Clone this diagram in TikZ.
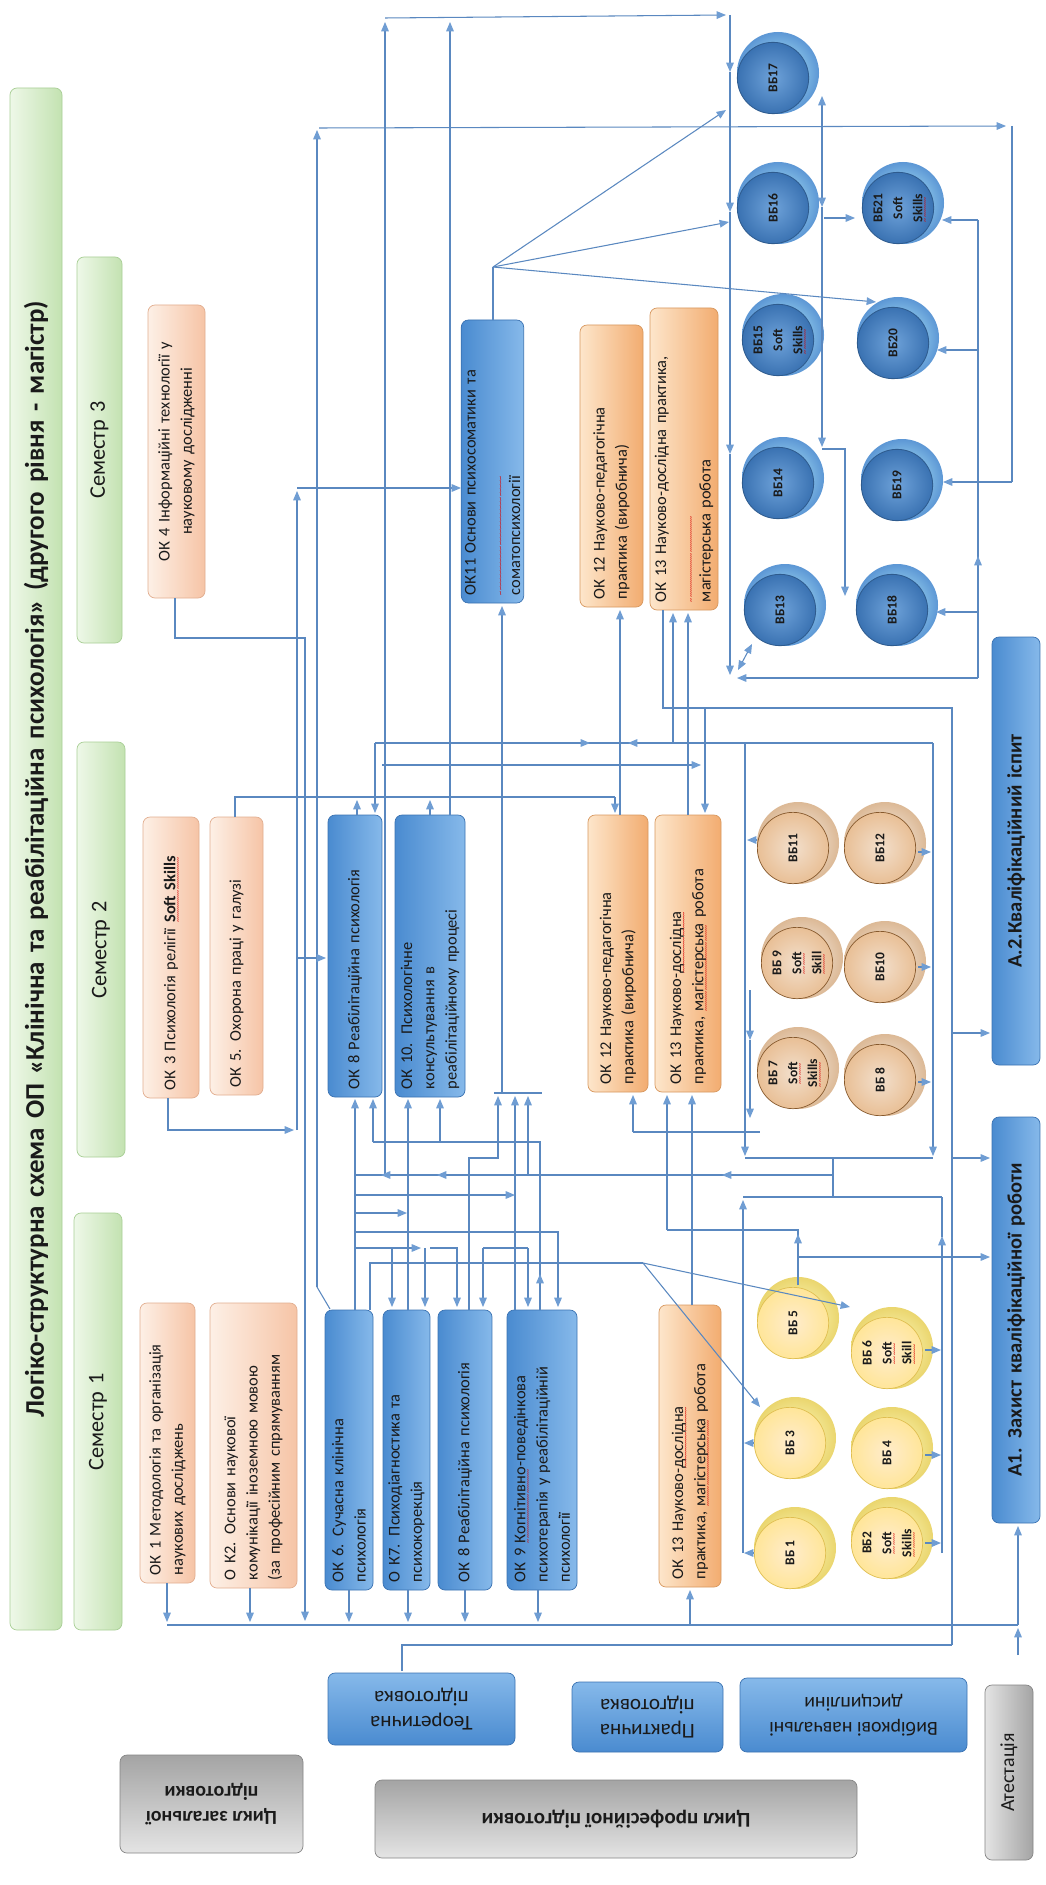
\documentclass[tikz,border=0pt]{standalone}
\usepackage{fontspec}
\setmainfont{Carlito}
\usetikzlibrary{arrows.meta}
\newsavebox\wvbox
\newlength\wvlen
\newcommand\wv[1]{\sbox\wvbox{#1}\setlength\wvlen{\wd\wvbox}\rlap{\raisebox{-4.3pt}[0pt][0pt]{\textcolor{red!85!black}{\fontsize{7}{7}\selectfont\mdseries\leaders\hbox{\char"7E}\hskip\wvlen}}}\usebox\wvbox}
\definecolor{lc}{HTML}{5A88C0}
\definecolor{ac}{HTML}{6F9DD3}
\definecolor{gr1}{HTML}{EEF8E8}\definecolor{gr2}{HTML}{C3E2B1}\definecolor{grd}{HTML}{A9CF96}
\definecolor{pe1}{HTML}{FDF0E6}\definecolor{pe2}{HTML}{F6C4A6}\definecolor{ped}{HTML}{E2AE90}
\definecolor{or1}{HTML}{FDE6CB}\definecolor{or2}{HTML}{F2AC70}\definecolor{ord}{HTML}{D8985F}
\definecolor{bu1}{HTML}{86B9EA}\definecolor{bu2}{HTML}{4A8BD0}\definecolor{bud}{HTML}{3A72B2}
\definecolor{gy1}{HTML}{E4E4E4}\definecolor{gy2}{HTML}{A4A4A4}\definecolor{gyd}{HTML}{858585}
\definecolor{txt}{HTML}{1A1A1A}
\newcommand\bx[7]{%
 \pgfmathsetmacro\bxw{(#5-#3)*0.03}%
 \pgfmathsetmacro\bxh{(#4-#2)*0.03}%
 \pgfmathsetmacro\bxt{(#5-#3-16)*0.03}%
 \node[#6, rotate=90, minimum width=\bxw cm, minimum height=\bxh cm, text width=\bxt cm] (#1) at ({(#2+#4)/2},{(#3+#5)/2}) {#7};}
\newcommand\bxr[7]{%
 \pgfmathsetmacro\bxw{(#4-#2)*0.03}%
 \pgfmathsetmacro\bxh{(#5-#3)*0.03}%
 \node[#6, rotate=180, minimum width=\bxw cm, minimum height=\bxh cm, align=center] (#1) at ({(#2+#4)/2},{(#3+#5)/2}) {#7};}
\newcommand\disc[5]{%
 \shade[#4rim] ({#2+5},{#3-5}) circle[radius=1.23cm];
 \shade[#4face] (#2,#3) circle[radius=1.07cm];
 \node[disctext, rotate=90] (#1) at (#2,#3) {#5};}
\begin{document}
\begin{tikzpicture}[x=0.03cm,y=-0.03cm,
 ln/.style={draw=lc, line width=0.9pt},
 arr/.style={ln, -{Triangle[length=8pt,width=6.5pt,color=ac]}},
 arrb/.style={ln, {Triangle[length=8pt,width=6.5pt,color=ac]}-{Triangle[length=8pt,width=6.5pt,color=ac]}},
 box/.style={rounded corners=6pt, line width=0.6pt, inner sep=3pt, text=txt, align=left, font=\fontsize{14}{19}\selectfont},
 greenbar/.style={box, draw=grd, left color=gr1, right color=gr2, align=center, font=\fontsize{19}{23}\selectfont},
 peach/.style={box, draw=ped, left color=pe1, right color=pe2},
 orange/.style={box, draw=ord, left color=or1, right color=or2},
 blue/.style={box, draw=bud, left color=bu2, right color=bu1},
 bluew/.style={box, draw=bud, top color=bu1, bottom color=bu2},
 gray/.style={box, draw=gyd, top color=gy2, bottom color=gy1, align=center},
 grayv/.style={box, draw=gyd, left color=gy1, right color=gy2, align=center},
 disctext/.style={align=center, inner sep=0pt, text=txt, font=\bfseries\fontsize{11.5}{17}\selectfont},
 blrim/.style={inner color=blue!10!cyan!25, outer color=bu2!90},
 blface/.style={inner color=bu2!80!white, outer color=bud, draw=bud!80!black, line width=0.7pt},
 brrim/.style={inner color=white!70!brown!30, outer color=brown!55!white},
 brface/.style={inner color=orange!20!brown!25!white, outer color=orange!30!brown!50!white, draw=brown!70!black, line width=0.6pt},
 yerim/.style={inner color=yellow!20!white, outer color=yellow!50!brown!65},
 yeface/.style={inner color=yellow!25!orange!20!white, outer color=yellow!50!orange!40!white, draw=yellow!40!brown!90, line width=0.6pt}
]
\useasboundingbox (0,0) rectangle (1046,1885);
\fill[white] (0,0) rectangle (1046,1885);
% ---------- green bars
\bx{title}{10}{88}{62}{1630}{greenbar, font=\bfseries\fontsize{23}{27}\selectfont}{Логіко-структурна схема ОП «Клінічна та реабілітаційна психологія» (другого рівня - магістр)}
\bx{s3}{77}{257}{122}{643}{greenbar}{Семестр 3}
\bx{s2}{77}{742}{125}{1157}{greenbar}{Семестр 2}
\bx{s1}{74}{1213}{122}{1630}{greenbar}{Семестр 1}
% ---------- peach
\bx{ok4}{148}{305}{205}{598}{peach, align=center}{ОК 4 Інформаційні  технології у\\ науковому дослідженні}
\bx{ok3}{143}{817}{199}{1098}{peach}{ОК 3 Психологія релігії \textbf{\wv{Soft Skills}}}
\bx{ok5}{210}{817}{263}{1095}{peach}{ОК 5. Охорона праці у галузі}
\bx{ok1}{140}{1303}{195}{1583}{peach}{ОК 1 Методологія та організація\\ наукових досліджень}
\bx{ok2}{210}{1303}{297}{1588}{peach}{О К2. Основи наукової\\ комунікації іноземною мовою\\ (за професійним спрямуванням}
% ---------- blue boxes
\bx{ok11}{463}{320}{522}{603}{blue}{ОК11 Основи психосоматики та\\ \wv{соматопсихології}}
\bx{ok8b}{328}{815}{382}{1097}{blue}{ОК 8 Реабілітаційна психологія}
\bx{ok10}{395}{815}{465}{1097}{blue}{ОК 10. Психологічне\\ консультування в\\ реабілітаційному процесі}
\bx{ok6}{325}{1310}{373}{1590}{blue}{ОК 6. Сучасна клінічна\\ психологія}
\bx{ok7}{383}{1310}{430}{1590}{blue}{О К7. Психодіагностика та\\ психокорекція}
\bx{ok8a}{438}{1310}{492}{1590}{blue}{ОК 8  Реабілітаційна психологія}
\bx{ok9}{507}{1310}{577}{1590}{blue}{ОК 9 \wv{Когнітивно}-поведінкова\\ психотерапія у реабілітаційній\\ психології}
% ---------- orange
\bx{ok12c}{580}{325}{643}{607}{orange}{ОК 12 Науково-педагогічна\\ практика (виробнича)}
\bx{ok13c}{650}{308}{718}{610}{orange}{ОК 13 Науково-дослідна практика,\\ \wv{магістерська} робота}
\bx{ok12b}{588}{815}{648}{1092}{orange}{ОК 12 Науково-педагогічна\\ практика (виробнича)}
\bx{ok13b}{655}{815}{721}{1092}{orange}{ОК 13 Науково-\wv{дослідна}\\ практика, \wv{магістерська} робота}
\bx{ok13a}{659}{1305}{721}{1587}{orange}{ОК 13 Науково-\wv{дослідна}\\ практика, \wv{магістерська} робота}
% ---------- attestation
\bx{a2}{992}{637}{1040}{1065}{blue, align=center, font=\bfseries\fontsize{17.5}{21}\selectfont}{А.2.Кваліфікаційний іспит}
\bx{a1}{992}{1117}{1040}{1523}{blue, align=center, font=\bfseries\fontsize{17.5}{21}\selectfont}{А1. Захист кваліфікаційної роботи}
\bx{atest}{985}{1685}{1033}{1860}{grayv, font=\fontsize{17}{21}\selectfont}{Атестація}
% ---------- bottom labels
\bxr{cz}{120}{1755}{303}{1853}{gray, font=\bfseries\fontsize{17}{21}\selectfont}{Цикл загальної\\ підготовки}
\bxr{teor}{328}{1673}{515}{1745}{bluew, align=center, font=\fontsize{18}{22}\selectfont}{Теоретична\\ підготовка}
\bxr{prakt}{572}{1682}{723}{1752}{bluew, align=center, font=\fontsize{18}{22}\selectfont}{Практична\\ підготовка}
\bxr{vyb}{740}{1678}{967}{1752}{bluew, align=center, font=\fontsize{17}{21}\selectfont}{Вибіркові навчальні\\ дисципліни}
\bxr{cp}{375}{1780}{857}{1858}{gray, font=\bfseries\fontsize{18}{22}\selectfont}{Цикл професійної підготовки}
% ---------- discs
\disc{v17}{773}{78}{bl}{ВБ17}
\disc{v16}{773}{208}{bl}{ВБ16}
\disc{v21}{898}{208}{bl}{ВБ21\\Soft\\\wv{Skills}}
\disc{v15}{778}{340}{bl}{ВБ15\\Soft\\\wv{Skills}}
\disc{v20}{893}{343}{bl}{ВБ20}
\disc{v14}{778}{483}{bl}{ВБ14}
\disc{v19}{897}{485}{bl}{ВБ19}
\disc{v13}{780}{610}{bl}{ВБ13}
\disc{v18}{892}{610}{bl}{ВБ18}
\disc{v11}{793}{848}{br}{ВБ11}
\disc{v12}{880}{848}{br}{ВБ12}
\disc{v9}{797}{963}{br}{ВБ 9\\\wv{Soft}\\\wv{Skill}}
\disc{v10}{880}{967}{br}{ВБ10}
\disc{v7}{793}{1073}{br}{ВБ 7\\\wv{Soft}\\\wv{Skills}}
\disc{v8}{880}{1080}{br}{ВБ 8}
\disc{v5}{793}{1323}{ye}{ВБ 5}
\disc{v6}{887}{1353}{ye}{ВБ 6\\\wv{Soft}\\\wv{Skill}}
\disc{v3}{790}{1443}{ye}{ВБ 3}
\disc{v4}{887}{1453}{ye}{ВБ 4}
\disc{v1}{790}{1553}{ye}{ВБ 1}
\disc{v2}{887}{1543}{ye}{ВБ2\\\wv{Soft}\\\wv{Skills}}
% ================= connectors
\draw[ln] (330,1309) -- (317,1287);
\draw[arr] (317,1287) -- (317,130);
\draw[arr] (319,128) -- (1006,126);
\draw[ln] (1012,126) -- (1012,482);
\draw[arr] (1012,482) -- (943,482);
\draw[arr] (175,598) -- (175,638) -- (305,638) -- (305,1621);
\draw[arr] (168,1098) -- (168,1130) -- (294,1130);
\draw[ln] (297,1130) -- (297,958);
\draw[arr] (297,958) -- (326,958);
\draw[arr] (297,958) -- (297,491);
\draw[arr] (297,488) -- (461,488);
\draw[ln] (235,817) -- (235,797) -- (615,797);
\draw[arr] (615,797) -- (615,813);
\draw[arr] (357,815) -- (357,800);
\draw[arr] (430,815) -- (430,800);
\draw[arr] (450,815) -- (450,22);
\draw[arr] (385,1175) -- (385,22);
\draw[arr] (385,18) -- (726,15);
\draw[arr] (730,15) -- (730,72);
\draw[arr] (730,72) -- (730,212);
\draw[arr] (730,212) -- (730,454);
\draw[arr] (730,454) -- (730,675);
\draw[arr] (978,678) -- (737,678);
\draw[arrb] (738,670) -- (752,644);
\draw[ln] (978,220) -- (978,678);
\draw[arr] (978,220) -- (942,220);
\draw[arr] (978,350) -- (937,350);
\draw[arr] (978,612) -- (936,612);
\draw[arr] (978,600) -- (978,556);
\draw[arrb] (822,96) -- (822,207);
\draw[arr] (822,207) -- (822,447);
\draw[arr] (822,449) -- (845,449) -- (845,596);
\draw[arr] (824,218) -- (855,218);
\draw[ln] (493,320) -- (493,267);
\draw[arr] (493,267) -- (726,110);
\draw[arr] (493,267) -- (729,222);
\draw[arr] (493,267) -- (876,302);
\draw[arr] (502,1093) -- (502,606);
\draw[ln] (494,1093) -- (542,1093);
\draw[arr] (620,815) -- (620,610);
\draw[arr] (673,743) -- (673,613);
\draw[arr] (688,815) -- (688,613);
\draw[ln] (663,610) -- (663,708) -- (952,708) -- (952,1645);
\draw[arr] (952,1033) -- (990,1033);
\draw[arr] (952,1158) -- (990,1158);
\draw[ln] (402,1671) -- (402,1645) -- (952,1645);
\draw[arr] (705,708) -- (705,813);
\draw[arr] (375,743) -- (375,813);
\draw[ln] (375,743) -- (933,743);
\draw[arr] (375,743) -- (590,743);
\draw[arr] (933,743) -- (628,743);
\draw[arr] (382,765) -- (701,765);
\draw[arr] (933,743) -- (933,1156);
\draw[arr] (745,743) -- (745,1156);
\draw[ln] (745,1158) -- (933,1158);
\draw[ln] (833,1158) -- (833,1197);
\draw[ln] (833,1175) -- (355,1175);
\draw[arr] (833,1175) -- (722,1175);
\draw[arr] (600,1175) -- (437,1175);
\draw[arr] (437,1175) -- (381,1175);
\draw[arr] (918,852) -- (931,852);
\draw[arr] (918,967) -- (931,967);
\draw[arr] (918,1082) -- (931,1082);
\draw[arr] (757,840) -- (747,840);
\draw[arr] (750,990) -- (750,1040);
\draw[arr] (750,1040) -- (750,1118);
\draw[ln] (633,1132) -- (760,1132);
\draw[arr] (633,1132) -- (633,1095);
\draw[ln] (743,1197) -- (942,1197);
\draw[arr] (743,1553) -- (743,1200);
\draw[arr] (942,1553) -- (942,1236);
\draw[ln] (942,1237) -- (942,1197);
\draw[arr] (753,1443) -- (744,1443);
\draw[arr] (753,1553) -- (744,1553);
\draw[arr] (925,1455) -- (941,1455);
\draw[arr] (925,1543) -- (941,1543);
\draw[arr] (925,1350) -- (941,1350);
\draw[ln] (798,1285) -- (798,1230) -- (667,1230);
\draw[arr] (798,1285) -- (798,1234);
\draw[arr] (667,1230) -- (667,1095);
\draw[arr] (798,1257) -- (990,1257);
\draw[arr] (692,1305) -- (692,1095);
\draw[arr] (355,1310) -- (355,1099);
\draw[ln] (540,1310) -- (540,1142) -- (373,1142);
\draw[arr] (540,1310) -- (540,1274);
\draw[arr] (373,1142) -- (373,1099);
\draw[arr] (440,1142) -- (440,1099);
\draw[arr] (408,1310) -- (408,1099);
\draw[arr] (469,1310) -- (469,1158) -- (498,1158) -- (498,1096);
\draw[arr] (515,1310) -- (515,1096);
\draw[arr] (528,1175) -- (528,1096);
\draw[arr] (355,1195) -- (515,1195);
\draw[arr] (355,1213) -- (407,1213);
\draw[arr] (355,1232) -- (558,1232) -- (558,1307);
\draw[arr] (355,1248) -- (421,1248);
\draw[arr] (392,1248) -- (392,1307);
\draw[arr] (425,1248) -- (425,1307);
\draw[arr] (430,1248) -- (457,1248) -- (457,1307);
\draw[ln] (483,1248) -- (528,1248);
\draw[arr] (483,1248) -- (483,1307);
\draw[arr] (528,1248) -- (528,1307);
\draw[ln] (370,1310) -- (370,1263) -- (643,1263);
\draw[arr] (643,1263) -- (850,1307);
\draw[arr] (643,1263) -- (760,1407);
\draw[ln] (167,1625) -- (1018,1625);
\draw[arr] (167,1583) -- (167,1622);
\draw[arr] (250,1588) -- (250,1622);
\draw[arr] (349,1590) -- (349,1622);
\draw[arr] (408,1590) -- (408,1622);
\draw[arr] (465,1590) -- (465,1622);
\draw[arr] (538,1590) -- (538,1622);
\draw[arr] (690,1625) -- (690,1590);
\draw[arr] (1018,1625) -- (1018,1526);
\draw[arr] (1018,1655) -- (1018,1628);
\end{tikzpicture}
\end{document}
